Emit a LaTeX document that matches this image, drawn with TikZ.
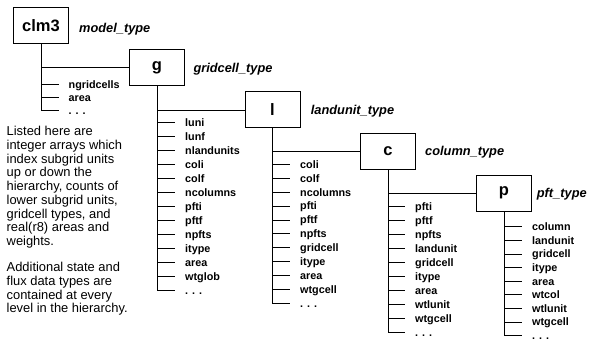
\documentclass[tikz,border=0pt]{standalone}
\usepackage{fontspec}
\setmainfont{Liberation Sans}
\tikzset{
  unitbox/.style={draw, line width=1pt, minimum width=55pt, minimum height=36pt, inner sep=0pt,
    font=\fontsize{16.5}{18}\selectfont\bfseries},
  typelabel/.style={anchor=base west, inner sep=0pt, font=\fontsize{12.8}{14}\selectfont\bfseries\itshape},
  field/.style={anchor=west, inner xsep=10pt, inner ysep=0pt, text height=7.8pt, text depth=0pt,
    font=\fontsize{10.8}{12}\selectfont\bfseries},
  link/.style={line width=0.8pt},
  note/.style={anchor=north west, inner sep=0pt, align=left, font=\fontsize{12.9}{13.75}\selectfont},
}
\begin{document}
\begin{tikzpicture}[x=1pt, y=-1pt]
  \useasboundingbox (0,0) rectangle (593,339);

  % one box per level of the hierarchy
  \node[unitbox] (clm3) at (41, 25.5) {clm3};
  \node[unitbox] (g) at (157, 67.5) {g};
  \node[unitbox] (l) at (272.5, 110) {l};
  \node[unitbox] (c) at (388, 151.5) {c};
  \node[unitbox] (p) at (504, 193) {p};

  \node[typelabel] (clm3type) at (79, 32.3) {model\_type};
  \node[typelabel] (gtype) at (193.3, 72.7) {gridcell\_type};
  \node[typelabel] (ltype) at (310.7, 115) {landunit\_type};
  \node[typelabel] (ctype) at (425, 155.5) {column\_type};
  \node[typelabel] (ptype) at (536.7, 197.3) {pft\_type};

  % members
  \foreach \name [count=\i] in {ngridcells, area, {. . .}}
    \node[field] (clm3-\i) at (58.5, {84.3+13*(\i-1)}) {\name};
  \foreach \name [count=\i] in {luni, lunf, nlandunits, coli, colf, ncolumns, pfti, pftf, npfts, itype, area, wtglob, {. . .}}
    \node[field] (g-\i) at (175, {122.7+14*(\i-1)}) {\name};
  \foreach \name [count=\i] in {coli, colf, ncolumns, pfti, pftf, npfts, gridcell, itype, area, wtgcell, {. . .}}
    \node[field] (l-\i) at (290, {164.3+13.9*(\i-1)}) {\name};
  \foreach \name [count=\i] in {pfti, pftf, npfts, landunit, gridcell, itype, area, wtlunit, wtgcell, {. . .}}
    \node[field] (c-\i) at (405, {206.7+14*(\i-1)}) {\name};
  \foreach \name [count=\i] in {column, landunit, gridcell, itype, area, wtcol, wtlunit, wtgcell, {. . .}}
    \node[field] (p-\i) at (522, {226.7+13.6*(\i-1)}) {\name};

  % trunks and ticks
  \draw[link] (clm3.south) |- (clm3-3.west);
  \foreach \i in {1,2} \draw[link] (clm3.south |- clm3-\i.west) -- (clm3-\i.west);
  \draw[link] (g.south) |- (g-13.west);
  \foreach \i in {1,...,12} \draw[link] (g.south |- g-\i.west) -- (g-\i.west);
  \draw[link] (l.south) |- (l-11.west);
  \foreach \i in {1,...,10} \draw[link] (l.south |- l-\i.west) -- (l-\i.west);
  \draw[link] (c.south) |- (c-10.west);
  \foreach \i in {1,...,9} \draw[link] (c.south |- c-\i.west) -- (c-\i.west);
  \draw[link] (p.south) |- (p-9.west);
  \foreach \i in {1,...,8} \draw[link] (p.south |- p-\i.west) -- (p-\i.west);

  % levels
  \draw[link] (clm3.south |- g.west) -- (g.west);
  \draw[link] (g.south |- l.west) -- (l.west);
  \draw[link] (l.south |- c.west) -- (c.west);
  \draw[link] (c.south |- p.west) -- (p.west);

  \node[note] (listed) at (6.5, 126) {Listed here are\\integer arrays which\\index subgrid units\\up or down the\\hierarchy, counts of\\lower subgrid units,\\gridcell types, and\\real(r8) areas and\\weights.};
  \node[note] (additional) at (6.5, 262) {Additional state and\\flux data types are\\contained at every\\level in the hierarchy.};
\end{tikzpicture}
\end{document}
